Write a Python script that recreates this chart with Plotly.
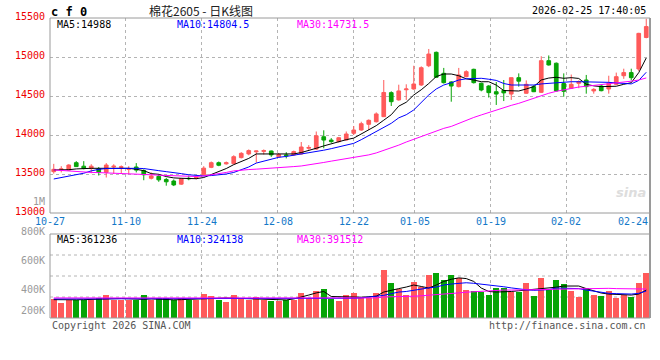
import plotly.graph_objects as go

# ---------------- data ----------------
dates = ["10-27", "10-28", "10-29", "10-30", "10-31",
         "11-03", "11-04", "11-05", "11-06", "11-07",
         "11-10", "11-11", "11-12", "11-13", "11-14",
         "11-17", "11-18", "11-19", "11-20", "11-21",
         "11-24", "11-25", "11-26", "11-27", "11-28",
         "12-01", "12-02", "12-03", "12-04", "12-05",
         "12-08", "12-09", "12-10", "12-11", "12-12",
         "12-15", "12-16", "12-17", "12-18", "12-19",
         "12-22", "12-23", "12-24", "12-25", "12-26",
         "12-29", "12-30", "12-31",
         "01-05", "01-06", "01-07", "01-08", "01-09",
         "01-12", "01-13", "01-14", "01-15", "01-16",
         "01-19", "01-20", "01-21", "01-22", "01-23",
         "01-26", "01-27", "01-28", "01-29", "01-30",
         "02-02", "02-03", "02-04", "02-05", "02-06",
         "02-09", "02-10", "02-11", "02-12", "02-13",
         "02-24", "02-25"]

open_ = [13530, 13555, 13550, 13645, 13600, 13570, 13565, 13520, 13590, 13585,
         13560, 13590, 13545, 13445, 13470, 13430, 13410, 13370, 13445, 13450,
         13490, 13585, 13645, 13630, 13632, 13710, 13757, 13785, 13790, 13795,
         13720, 13745, 13745, 13757, 13830, 13820, 13978, 13935, 13915, 13936,
         14022, 14064, 14137, 14170, 14235, 14543, 14450, 14580, 14590, 14641,
         14888, 15060, 14791, 14680, 14620, 14748, 14842, 14663, 14628, 14555,
         14570, 14525, 14735, 14535, 14620, 14547, 14953, 14920, 14660, 14599,
         14663, 14705, 14565, 14628, 14590, 14650, 14760, 14800, 14846, 15250]
high = [13630, 13600, 13625, 13665, 13665, 13625, 13590, 13640, 13625, 13610,
        13600, 13640, 13560, 13520, 13500, 13450, 13430, 13450, 13480, 13470,
        13600, 13660, 13660, 13660, 13740, 13780, 13815, 13800, 13815, 13800,
        13770, 13780, 13800, 13910, 13870, 14045, 14060, 13960, 13975, 14045,
        14115, 14170, 14200, 14290, 14705, 14560, 14645, 14650, 14888, 14880,
        15103, 15070, 14860, 14690, 14860, 14830, 14850, 14670, 14640, 14680,
        14705, 14735, 14790, 14700, 14640, 15010, 15020, 14930, 14790, 14775,
        14700, 14770, 14600, 14640, 14760, 14800, 14850, 14850, 15310, 15490]
low = [13505, 13520, 13545, 13590, 13560, 13510, 13480, 13455, 13500, 13510,
       13500, 13520, 13420, 13430, 13400, 13350, 13345, 13360, 13420, 13430,
       13480, 13575, 13600, 13620, 13625, 13700, 13740, 13645, 13750, 13720,
       13710, 13700, 13735, 13750, 13810, 13810, 13830, 13900, 13905, 13930,
       14000, 14055, 14064, 14160, 14230, 14372, 14440, 14450, 14580, 14630,
       14870, 14730, 14660, 14427, 14610, 14740, 14660, 14560, 14480, 14385,
       14435, 14450, 14620, 14530, 14550, 14540, 14890, 14560, 14490, 14590,
       14600, 14530, 14530, 14560, 14530, 14640, 14720, 14700, 14820, 15240]
close = [13560, 13565, 13615, 13595, 13570, 13600, 13520, 13615, 13600, 13592,
         13568, 13550, 13490, 13475, 13425, 13400, 13360, 13440, 13440, 13455,
         13575, 13645, 13612, 13645, 13722, 13765, 13800, 13795, 13800, 13745,
         13750, 13735, 13787, 13846, 13840, 13990, 13935, 13915, 13965, 14013,
         14064, 14145, 14188, 14270, 14545, 14427, 14565, 14590, 14654, 14863,
         15038, 14740, 14671, 14628, 14770, 14812, 14671, 14577, 14543, 14525,
         14540, 14735, 14690, 14650, 14555, 14953, 14898, 14565, 14560, 14650,
         14684, 14620, 14585, 14568, 14663, 14748, 14800, 14735, 15303, 15390]

ma5 = [13552, 13552, 13555, 13565, 13573, 13573, 13573, 13573, 13573, 13575,
       13573, 13560, 13543, 13505, 13496, 13467, 13450, 13445, 13440, 13440,
       13455, 13490, 13530, 13570, 13620, 13660, 13700, 13757, 13757, 13757,
       13757, 13757, 13757, 13775, 13800, 13830, 13860, 13890, 13915, 13940,
       13960, 14010, 14070, 14120, 14190, 14260, 14370, 14420, 14513, 14580,
       14660, 14750, 14782, 14782, 14760, 14720, 14705, 14683, 14683, 14640,
       14570, 14564, 14564, 14590, 14620, 14705, 14730, 14740, 14727, 14735,
       14725, 14650, 14630, 14620, 14620, 14625, 14650, 14670, 14800, 14988]
ma10 = [13436, 13455, 13470, 13490, 13510, 13540, 13560, 13570, 13573, 13573,
        13573, 13573, 13570, 13560, 13543, 13530, 13520, 13505, 13490, 13478,
        13475, 13480, 13487, 13500, 13520, 13550, 13590, 13640, 13665, 13690,
        13714, 13725, 13740, 13760, 13775, 13790, 13805, 13825, 13850, 13870,
        13893, 13940, 13990, 14043, 14100, 14150, 14220, 14260, 14321, 14420,
        14513, 14590, 14641, 14670, 14705, 14720, 14727, 14727, 14715, 14700,
        14660, 14641, 14641, 14641, 14641, 14655, 14663, 14675, 14683, 14683,
        14683, 14683, 14683, 14680, 14675, 14668, 14663, 14655, 14700, 14804.5]
ma30 = [13552, 13545, 13535, 13525, 13522, 13520, 13518, 13515, 13512, 13510,
        13505, 13500, 13495, 13490, 13485, 13480, 13477, 13475, 13470, 13468,
        13475, 13487, 13500, 13520, 13540, 13552, 13557, 13562, 13567, 13572,
        13580, 13588, 13595, 13603, 13615, 13630, 13648, 13665, 13680, 13695,
        13710, 13728, 13745, 13770, 13800, 13835, 13870, 13910, 13945, 13980,
        14015, 14055, 14085, 14110, 14150, 14190, 14225, 14257, 14290, 14320,
        14350, 14380, 14406, 14440, 14470, 14505, 14535, 14560, 14580, 14600,
        14615, 14625, 14635, 14645, 14655, 14665, 14675, 14690, 14705, 14731.5]

volume = [330000, 307000, 326000, 326000, 326000, 326000, 337000, 360000, 326000, 326000,
          326000, 326000, 360000, 326000, 337000, 340000, 326000, 340000, 326000, 326000,
          365000, 354000, 326000, 314000, 360000, 340000, 326000, 347000, 326000, 319000,
          319000, 326000, 326000, 372000, 340000, 391000, 400000, 330000, 319000, 360000,
          372000, 342000, 342000, 372000, 535000, 446000, 402000, 360000, 453000, 414000,
          500000, 516000, 465000, 500000, 477000, 395000, 391000, 384000, 360000, 412000,
          412000, 384000, 384000, 446000, 354000, 481000, 395000, 465000, 437000, 391000,
          349000, 407000, 360000, 354000, 390000, 342000, 360000, 349000, 446000, 516000]
vma5 = [328000, 326000, 326000, 327000, 328000, 330000, 332000, 335000, 338000, 336000,
        334000, 330000, 330000, 333000, 330000, 328000, 327000, 328000, 330000, 333000,
        336000, 340000, 342000, 340000, 338000, 336000, 333000, 330000, 328000, 325000,
        323000, 326000, 333000, 345000, 360000, 375000, 385000, 350000, 348000, 347000,
        345000, 345000, 348000, 352000, 381000, 395000, 405000, 416000, 430000, 420000,
        409000, 430000, 455000, 470000, 480000, 475000, 455000, 409000, 385000, 381000,
        381000, 385000, 390000, 395000, 395000, 400000, 405000, 415000, 423000, 423000,
        423000, 405000, 390000, 374000, 367000, 363000, 360000, 360000, 367000, 395000]
vma10 = [333000, 333000, 333000, 333000, 333000, 333000, 333000, 333000, 333000, 333000,
         333000, 333000, 333000, 333000, 333000, 333000, 333000, 333000, 333000, 333000,
         333000, 333000, 333000, 333000, 333000, 333000, 333000, 333000, 333000, 333000,
         333000, 333000, 333000, 334000, 335000, 337000, 338000, 333000, 335000, 336000,
         338000, 340000, 345000, 350000, 358000, 370000, 381000, 385000, 395000, 400000,
         410000, 416000, 430000, 437000, 444000, 446000, 442000, 437000, 430000, 423000,
         418000, 410000, 402000, 397000, 393000, 393000, 398000, 409000, 409000, 409000,
         405000, 395000, 388000, 378000, 372000, 370000, 367000, 367000, 372000, 388000]
vma30 = [340000, 340000, 340000, 340000, 340000, 340000, 340000, 340000, 340000, 340000,
         340000, 340000, 340000, 340000, 340000, 340000, 340000, 340000, 340000, 340000,
         340000, 340000, 340000, 340000, 340000, 340000, 340000, 340000, 340000, 340000,
         340000, 340000, 340000, 340000, 340000, 340000, 340000, 340000, 340000, 340000,
         340000, 340000, 340000, 340000, 347000, 347000, 347000, 350000, 352000, 355000,
         358000, 362000, 367000, 372000, 375000, 380000, 384000, 386000, 388000, 392000,
         395000, 395000, 395000, 395000, 395000, 397000, 399000, 401000, 402000, 404000,
         406000, 408000, 409000, 409000, 407000, 405000, 403000, 402000, 402000, 402000]

date_labels = ["10-27", "11-10", "11-24", "12-08", "12-22", "01-05", "01-19", "02-02", "02-24"]
price_ticks = [13000, 13500, 14000, 14500, 15000, 15500]
volume_ticks = [800000, 600000, 400000, 200000]
volume_tick_text = ["800K", "600K", "400K", "200K"]

header_code = "c f 0"
title_text = "棉花2605 - 日K线图"
timestamp = "2026-02-25 17:40:05"
price_legend = ["MA5:14988", "MA10:14804.5", "MA30:14731.5"]
volume_legend = ["MA5:361236", "MA10:324138", "MA30:391512"]

# ---------------- styles ----------------
RED = "#ff5a5a"
GREEN = "#06a406"
MA_COLORS = ["#000000", "#0000ff", "#ff00ff"]
MONO = "DejaVu Sans Mono, Liberation Mono, monospace"
GRID = "#b4b4b4"
FRAME = "#9a9a9a"

n = len(dates)
idx = list(range(n))
# Sina spreads date labels over (n-1) intervals across the plot width
def label_pos(d):
    return dates.index(d) * n / (n - 1) - 0.5

grid_pos = [label_pos(d) for d in date_labels[1:-1]]

fig = go.Figure()

fig.add_trace(go.Candlestick(
    x=idx, open=open_, high=high, low=low, close=close,
    increasing=dict(line=dict(color=RED, width=1), fillcolor=RED),
    decreasing=dict(line=dict(color=GREEN, width=1), fillcolor=GREEN),
    whiskerwidth=0, hoverinfo="skip", showlegend=False,
    xaxis="x", yaxis="y"))

for series, col in zip([ma5, ma10, ma30], MA_COLORS):
    fig.add_trace(go.Scatter(x=idx, y=series, mode="lines",
                             line=dict(color=col, width=1),
                             hoverinfo="skip", showlegend=False,
                             xaxis="x", yaxis="y"))

vol_colors = [RED if c >= o else GREEN for o, c in zip(open_, close)]
fig.add_trace(go.Bar(x=idx, y=volume, marker=dict(color=vol_colors, line=dict(width=0)),
                     width=0.8, hoverinfo="skip", showlegend=False,
                     xaxis="x2", yaxis="y2"))
for series, col in zip([vma5, vma10, vma30], MA_COLORS):
    fig.add_trace(go.Scatter(x=idx, y=series, mode="lines",
                             line=dict(color=col, width=1),
                             hoverinfo="skip", showlegend=False,
                             xaxis="x2", yaxis="y2"))

xcommon = dict(range=[-0.5, n - 0.5], tickvals=grid_pos, showticklabels=False,
               showgrid=True, gridcolor=GRID, griddash="dot", gridwidth=1,
               zeroline=False, showline=False, ticks="", fixedrange=True,
               automargin=False)

fig.update_layout(
    template="none",
    width=660, height=360,
    margin=dict(l=50, r=10, t=18, b=42, autoexpand=False),
    paper_bgcolor="white", plot_bgcolor="white",
    showlegend=False, bargap=0,
    xaxis=dict(domain=[0, 1], anchor="y", rangeslider=dict(visible=False), **xcommon),
    xaxis2=dict(domain=[0, 1], anchor="y2", matches="x", **xcommon),
    yaxis=dict(domain=[0.35, 1], range=[13000, 15500], tickvals=price_ticks,
               showticklabels=False,
               showgrid=True, gridcolor=GRID, griddash="dot", gridwidth=1,
               zeroline=False, showline=False, ticks="", fixedrange=True,
               automargin=False),
    yaxis2=dict(domain=[0, 0.2867], range=[200000, 800000], showticklabels=False,
                showgrid=False, zeroline=False, showline=False, ticks="", fixedrange=True,
                automargin=False),
)

def py(px):
    return (318 - px) / 300.0

def pxx(px):
    return (px - 50) / 600.0

shapes = []
# frames
shapes.append(dict(type="rect", xref="paper", yref="paper", x0=0, x1=1, y0=0.35, y1=1,
                   line=dict(color=FRAME, width=1), fillcolor="rgba(0,0,0,0)", layer="above"))
shapes.append(dict(type="rect", xref="paper", yref="paper", x0=0, x1=1, y0=0, y1=py(234),
                   line=dict(color=FRAME, width=1), fillcolor="rgba(0,0,0,0)", layer="above"))
shapes.append(dict(type="line", xref="paper", yref="paper", x0=1, x1=1, y0=0, y1=1,
                   line=dict(color=FRAME, width=2), layer="above"))
# volume horizontal gridlines (quarters of the panel frame)
for f in [0.25, 0.5, 0.75]:
    yy = py(234) * f
    shapes.append(dict(type="line", xref="paper", yref="paper", x0=0, x1=1, y0=yy, y1=yy,
                       line=dict(color=GRID, width=1, dash="dot"), layer="below"))
fig.update_layout(shapes=shapes)

ann = []
# price axis labels (red), sitting just above their gridlines
for v in price_ticks:
    ann.append(dict(text=str(v), x=pxx(47), y=v, xref="paper", yref="y",
                    xanchor="right", yanchor="middle", yshift=2, showarrow=False,
                    font=dict(family=MONO, size=10, color="#ee0000")))
# volume axis labels (gray); the lowest one is lifted to stay inside the panel
for v, t in zip(volume_ticks, volume_tick_text):
    ann.append(dict(text=t, x=pxx(47), y=v, xref="paper", yref="y2",
                    xanchor="right", yanchor="middle", yshift=8 if v == 200000 else 0,
                    showarrow=False,
                    font=dict(family=MONO, size=10, color="#9a9a9a")))
ann.append(dict(text="<b>" + header_code + "</b>", x=pxx(49), y=py(12), xref="paper", yref="paper",
                xanchor="left", yanchor="middle", showarrow=False,
                font=dict(family=MONO, size=12, color="#000000")))
ann.append(dict(text=title_text, x=pxx(201), y=py(11), xref="paper", yref="paper",
                xanchor="center", yanchor="middle", showarrow=False,
                font=dict(family="Noto Sans CJK SC", size=12, color="#222222")))
ann.append(dict(text=timestamp, x=pxx(648), y=py(11), xref="paper", yref="paper",
                xanchor="right", yanchor="middle", showarrow=False,
                font=dict(family=MONO, size=10, color="#000000")))
for txt, xp, col in zip(price_legend, [55, 175, 295], MA_COLORS):
    ann.append(dict(text=txt, x=pxx(xp), y=py(25), xref="paper", yref="paper",
                    xanchor="left", yanchor="middle", showarrow=False,
                    font=dict(family=MONO, size=10, color=col)))
for txt, xp, col in zip(volume_legend, [55, 175, 295], MA_COLORS):
    ann.append(dict(text=txt, x=pxx(xp), y=py(239), xref="paper", yref="paper",
                    xanchor="left", yanchor="middle", showarrow=False,
                    font=dict(family=MONO, size=10, color=col)))
# date labels
for d in date_labels[:-1]:
    ann.append(dict(text=d, x=label_pos(d), y=py(222), xref="x", yref="paper",
                    xanchor="center", yanchor="middle", showarrow=False,
                    font=dict(family=MONO, size=10, color="#1478c8")))
ann.append(dict(text=date_labels[-1], x=1, y=py(222), xref="paper", yref="paper",
                xanchor="right", yanchor="middle", showarrow=False,
                font=dict(family=MONO, size=10, color="#1478c8")))
# stray volume-scale label drawn by the source above the volume panel
ann.append(dict(text="1M", x=pxx(47), y=py(201), xref="paper", yref="paper",
                xanchor="right", yanchor="middle", showarrow=False,
                font=dict(family=MONO, size=10, color="#9a9a9a")))
# watermark
ann.append(dict(text="<i><b>sina</b></i>", x=pxx(648), y=py(192), xref="paper", yref="paper",
                xanchor="right", yanchor="middle", showarrow=False,
                font=dict(family="DejaVu Sans", size=13, color="#dddddd")))
# footer
ann.append(dict(text="Copyright 2026 SINA.COM", x=0, y=py(325), xref="paper", yref="paper",
                xanchor="left", yanchor="middle", showarrow=False,
                font=dict(family=MONO, size=10, color="#555555")))
ann.append(dict(text="http://finance.sina.com.cn", x=pxx(648), y=py(325), xref="paper", yref="paper",
                xanchor="right", yanchor="middle", showarrow=False,
                font=dict(family=MONO, size=10, color="#555555")))
fig.update_layout(annotations=ann)

fig.write_html("out.html", config={"displayModeBar": False},
               post_script="document.body.style.margin='0';")
